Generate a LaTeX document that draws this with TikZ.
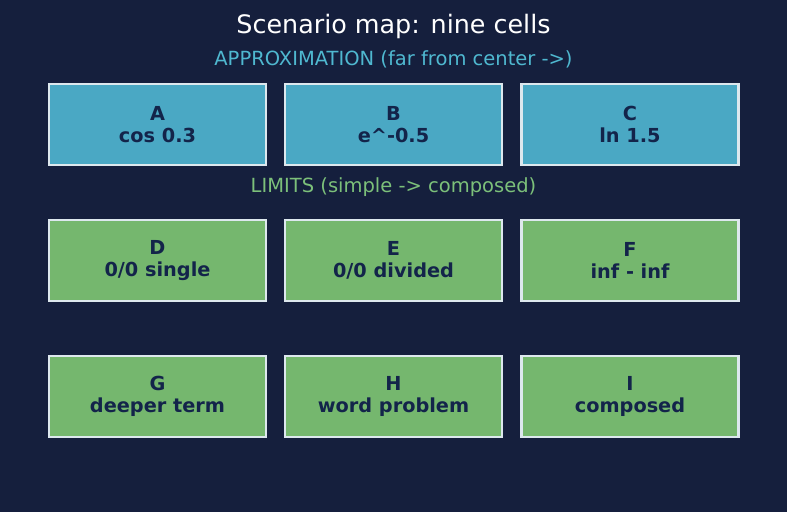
\documentclass[tikz,border=0pt]{standalone}
\usepackage{fontspec}
\setmainfont{DejaVu Sans}
\definecolor{bg}{HTML}{151F3D}
\definecolor{bluefill}{HTML}{4AA8C4}
\definecolor{greenfill}{HTML}{75B76E}
\definecolor{edge}{HTML}{DDE8EE}
\definecolor{ink}{HTML}{13244A}
\definecolor{subblue}{HTML}{4FB8D0}
\definecolor{subgreen}{HTML}{7CC07A}
\tikzset{
  cell/.style={draw=edge, line width=2.2pt, minimum width=217pt, minimum height=81pt,
    inner sep=0pt, align=center, text=ink, font=\fontsize{19.3}{21.5}\selectfont\bfseries},
  bluecell/.style={cell, fill=bluefill},
  greencell/.style={cell, fill=greenfill},
}
\begin{document}
\begin{tikzpicture}[x=1pt,y=-1pt]
\fill[bg] (0,0) rectangle (787,512);
\useasboundingbox (0,0) rectangle (787,512);
\node[text=white, font=\fontsize{25.4}{30}\selectfont] (title) at (393.5,26) {Scenario map: nine cells};
\node[text=subblue, font=\fontsize{19.5}{22}\selectfont] (approx) at (393.5,59) {APPROXIMATION (far from center ->)};
\node[text=subgreen, font=\fontsize{19.5}{22}\selectfont] (limits) at (393.5,187) {LIMITS (simple -> composed)};
\node[bluecell] (A) at (157.5,124.5) {A\\cos 0.3};
\node[bluecell] (B) at (393.5,124.5) {B\\e\^{}-0.5};
\node[bluecell] (C) at (630,124.5) {C\\ln 1.5};
\node[greencell] (D) at (157.5,260.5) {D\\0/0 single};
\node[greencell] (E) at (393.5,260.5) {E\\0/0 divided};
\node[greencell] (F) at (630,260.5) {F\\inf - inf};
\node[greencell] (G) at (157.5,396.5) {G\\deeper term};
\node[greencell] (H) at (393.5,396.5) {H\\word problem};
\node[greencell] (I) at (630,396.5) {I\\composed};
\end{tikzpicture}
\end{document}
